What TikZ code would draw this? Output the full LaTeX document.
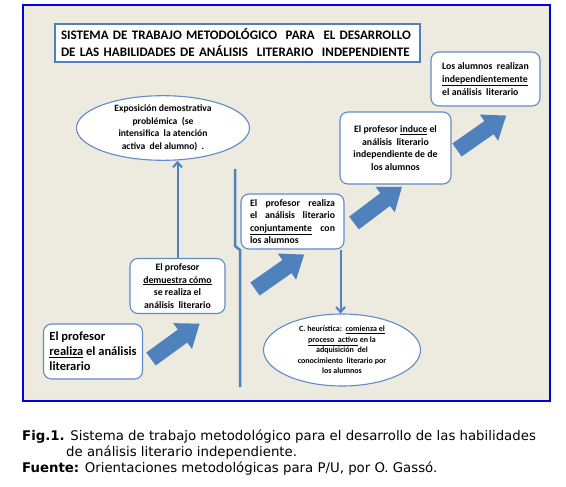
\documentclass[tikz,border=0pt]{standalone}
\usepackage{fontspec}
\setmainfont{Carlito}
\newfontfamily\capfont{DejaVu Sans}
\usetikzlibrary{arrows.meta,shapes.geometric}
\definecolor{boxblue}{RGB}{95,140,200}
\definecolor{arrowblue}{RGB}{79,129,189}
\definecolor{paper}{RGB}{237,234,224}
\definecolor{framecol}{RGB}{0,0,225}
\tikzset{
  box/.style={draw=boxblue, line width=1.1pt, fill=white, rounded corners=8pt, inner sep=0pt, align=center, font=\bfseries\fontsize{9.8}{12.6}\selectfont},
  oval/.style={ellipse, draw=boxblue, line width=1.1pt, fill=white, inner sep=0pt, align=center, font=\bfseries\fontsize{9.6}{12.5}\selectfont},
  link/.style={draw=arrowblue, line width=2pt, -{Straight Barb[length=5pt,width=9pt]}},
  caption/.style={anchor=base west, inner sep=0pt, font=\capfont\fontsize{13.3}{16}\selectfont},
}
% block arrow: tail centre, angle
\newcommand\blockarrow[2]{\fill[arrowblue, shift={(#1)}, rotate=#2] (0,-8) -- (39,-8) -- (39,-16) -- (60,0) -- (39,16) -- (39,8) -- (0,8) -- cycle;}

\begin{document}
\begin{tikzpicture}[x=1pt, y=-1pt]
  \useasboundingbox (0,0) rectangle (566,487);
  %%%%% frame %%%%%
  \draw[framecol, line width=1.5pt, fill=paper] (23,5) rectangle (550,401);

  \node[draw=arrowblue, line width=2pt, fill=white, minimum width=365pt, minimum height=38pt, inner xsep=6pt, inner ysep=0pt,
        text width=353pt, align=left, font=\bfseries\fontsize{13}{17}\selectfont] (title) at (237.5,43)
        {\mbox{SISTEMA DE TRABAJO METODOLÓGICO\ \ PARA\ \ EL DESARROLLO}\\\mbox{DE LAS HABILIDADES DE ANÁLISIS\ \ LITERARIO\ \ INDEPENDIENTE}};

  %%%%% boxes %%%%%
  \node[oval, minimum width=173pt, minimum height=61pt] (expo) at (163,128)
        {Exposición demostrativa\\problémica\ \ (se\\intensifica\ \ la atención\\activa\ \ del alumno)\ \ .};
  \node[box, align=left, minimum width=109pt, minimum height=54pt] (alumnos) at (485.5,79)
        {Los alumnos\ \ realizan\\\underline{independientemente}\\el análisis\ \ literario};
  \node[box, minimum width=111pt, minimum height=72pt] (induce) at (395.5,148)
        {El profesor \underline{induce} el\\análisis\ \ literario\\independiente de de\\los alumnos};
  \node[box, align=left, minimum width=103pt, minimum height=55pt] (conj) at (292.5,221.5)
        {\makebox[85pt][s]{El profesor realiza}\\\makebox[85pt][s]{el análisis literario}\\\makebox[85pt][s]{\underline{conjuntamente} con}\\los alumnos};
  \node[box, minimum width=95pt, minimum height=55pt] (demuestra) at (177.5,286)
        {El profesor\\\underline{demuestra cómo}\\se realiza el\\análisis\ \ literario};
  \node[box, align=left, minimum width=99pt, minimum height=55pt, font=\bfseries\fontsize{12.5}{15}\selectfont] (profesor) at (93,351.5)
        {El profesor\\\underline{realiza} el análisis\\literario};
  \node[oval, minimum width=157pt, minimum height=72pt, font=\bfseries\fontsize{8}{10.6}\selectfont] (heur) at (342,350)
        {C. heurística:\ \ \underline{comienza el}\\\underline{proceso\ \ activo} en la\\adquisición\ \ del\\conocimiento\ \ literario por\\los alumnos};

  %%%%% connectors %%%%%
  \draw[link] (demuestra.north) -- (expo.south -| demuestra.north);
  \coordinate (conjout) at ([xshift=-4pt]conj.south east);
  \draw[link] (conjout) -- (heur.north -| conjout);

  \draw[arrowblue, line width=2.5pt] (235,169) -- (235,246) -- (240,250) -- (240,387);

  \blockarrow{151,359}{36}
  \blockarrow{255,289}{35}
  \blockarrow{354,223}{37}
  \blockarrow{457,150}{35}

  %%%%% caption %%%%%
  \node[caption] (fig) at (22,440) {\textbf{Fig.1.} Sistema de trabajo metodológico para el desarrollo de las habilidades};
  \node[caption] (fig2) at (66,456) {de análisis literario independiente.};
  \node[caption] (src) at (22,472) {\textbf{Fuente:} Orientaciones metodológicas para P/U, por O. Gassó.};
\end{tikzpicture}
\end{document}
